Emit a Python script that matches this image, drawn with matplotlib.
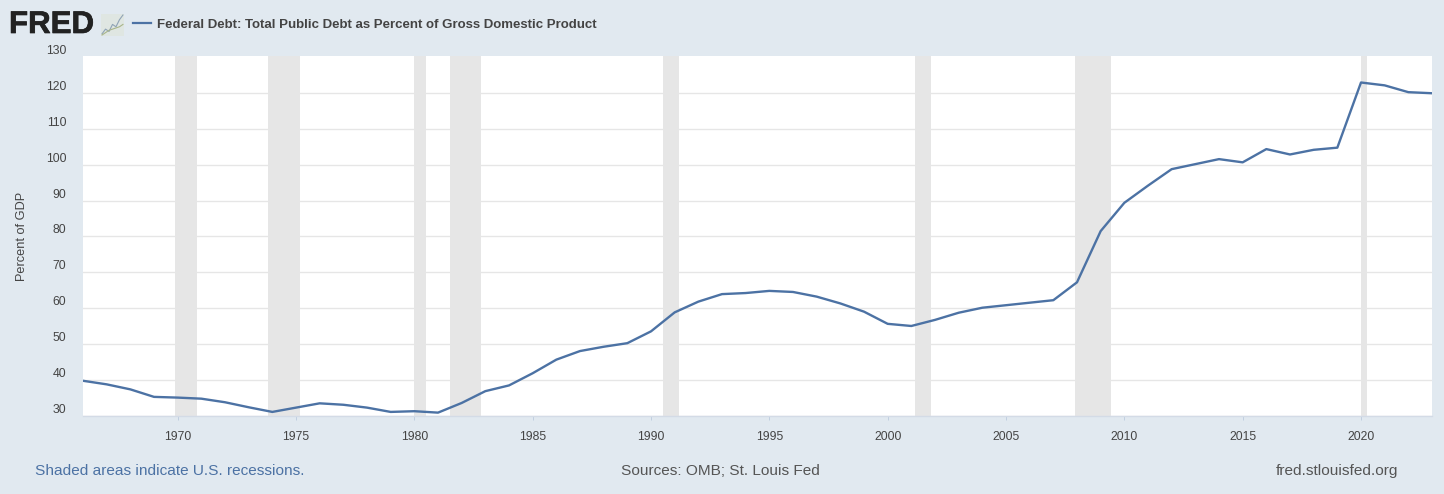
import matplotlib
matplotlib.use("Agg")
import matplotlib.pyplot as plt
import matplotlib.patheffects as pe
from matplotlib.lines import Line2D

plt.rcParams['font.family'] = ['Liberation Sans', 'DejaVu Sans']

years = list(range(1966, 2024))
debt_pct_gdp = [39.7, 38.7, 37.3, 35.2, 35.0, 34.7, 33.7, 32.3, 31.0, 32.2,
                33.4, 33.0, 32.2, 31.0, 31.2, 30.8, 33.5, 36.8, 38.4, 41.8,
                45.6, 48.0, 49.2, 50.2, 53.5, 58.8, 61.8, 63.9, 64.2, 64.8,
                64.5, 63.2, 61.3, 59.0, 55.6, 55.0, 56.7, 58.7, 60.1, 60.8,
                61.5, 62.2, 67.2, 81.5, 89.4, 94.2, 98.8, 100.2, 101.6, 100.7,
                104.4, 102.9, 104.2, 104.8, 123.0, 122.2, 120.3, 120.0]
recession_starts = [1969.88, 1973.83, 1980.0, 1981.5, 1990.5, 2001.17, 2007.92, 2020.0]
recession_ends = [1970.83, 1975.17, 1980.5, 1982.83, 1991.17, 2001.83, 2009.42, 2020.25]
y_ticks = [30, 40, 50, 60, 70, 80, 90, 100, 110, 120, 130]
x_ticks = [1970, 1975, 1980, 1985, 1990, 1995, 2000, 2005, 2010, 2015, 2020]
icon_x = [0, 1, 2, 3, 4, 5, 6]
icon_a = [1, 3, 2, 5, 4, 7, 9]
icon_b = [0.5, 1.5, 2.5, 3, 3.5, 4, 5]

title = "Federal Debt: Total Public Debt as Percent of Gross Domestic Product"
BG = "#e1e9f0"
LINE = "#4c72a4"
W, H = 1444, 494

fig = plt.figure(figsize=(W / 100, H / 100), dpi=100, facecolor=BG)
ax = fig.add_axes([83 / W, 1 - 415.5 / H, (1432 - 83) / W, (415.5 - 56) / H], facecolor="white")
ax.set_xlim(1966, 2023)
ax.set_ylim(30.2, 130.4)
for s, e in zip(recession_starts, recession_ends):
    ax.axvspan(s, e, color="#e6e6e6", lw=0, zorder=1.5)
ax.grid(axis="y", color="#e6e6e6", lw=1, zorder=1)
ax.set_axisbelow(True)
ax.plot(years, debt_pct_gdp, color=LINE, lw=1.7, zorder=3, solid_joinstyle="round")
for side in ("top", "left", "right"):
    ax.spines[side].set_visible(False)
ax.spines["bottom"].set_color("#d3dbe6")
ax.spines["bottom"].set_linewidth(1)
ax.set_yticks(y_ticks)
ax.set_yticklabels([str(v) for v in y_ticks], va="bottom")
ax.set_xticks(x_ticks)
ax.set_xticklabels([str(v) for v in x_ticks])
ax.tick_params(axis="y", length=0, pad=12, labelsize=8.8, labelcolor="#444444")
ax.tick_params(axis="x", length=3, width=0.7, color="#c0cfe0", pad=8, labelsize=8.8, labelcolor="#444444")
ax.get_ygridlines()[-1].set_visible(False)

fig.text(22.5 / W, 1 - 236 / H, "Percent of GDP", rotation=90, ha="center", va="center",
         fontsize=9.2, color="#444444")
fig.text(9 / W, 1 - 25 / H, "FRED", fontsize=22.5, fontweight="bold", color="#222222",
         ha="left", va="center",
         path_effects=[pe.withStroke(linewidth=0.5, foreground="#222222")])
fig.add_artist(Line2D([133 / W, 151 / W], [1 - 23 / H, 1 - 23 / H], color=LINE, lw=1.6))
fig.text(157 / W, 1 - 24.5 / H, title, fontsize=9.53, fontweight="bold", color="#444444",
         ha="left", va="center")
fig.text(35 / W, 1 - 470.5 / H, "Shaded areas indicate U.S. recessions.", fontsize=11.1,
         color="#4c72a4", ha="left", va="center")
fig.text(720 / W, 1 - 470.5 / H, "Sources: OMB; St. Louis Fed", fontsize=11.1,
         color="#555555", ha="center", va="center")
fig.text(1398 / W, 1 - 470.5 / H, "fred.stlouisfed.org", fontsize=11.1,
         color="#555555", ha="right", va="center")

icon = fig.add_axes([101 / W, 1 - 36 / H, 23 / W, 22 / H], facecolor="#dfe6e2")
icon.plot(icon_x, icon_a, color="#8fa3b5", lw=0.8)
icon.plot(icon_x, icon_b, color="#a9b58a", lw=0.8)
icon.set_xticks([]); icon.set_yticks([])
for s in icon.spines.values():
    s.set_visible(False)

fig.savefig("out.png", dpi=100, facecolor=BG)
